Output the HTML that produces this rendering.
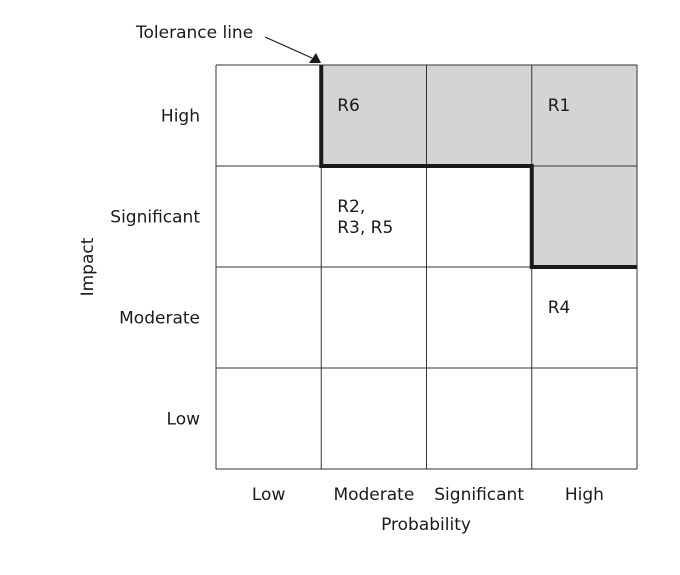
<!DOCTYPE html>
<html><head><meta charset="utf-8"><style>
html,body{margin:0;padding:0;background:#fff;}
svg text{font-family:"DejaVu Sans","Liberation Sans",sans-serif;font-size:17px;fill:#1a1a1a;}
</style></head><body>
<svg id="chart" width="680" height="570" viewBox="0 0 680 570" xmlns="http://www.w3.org/2000/svg"></svg>
<script>
const probCats = ["Low","Moderate","Significant","High"];
const impactCats = ["High","Significant","Moderate","Low"];
const shadedProb = ["Moderate","Significant","High","High"];
const shadedImpact = ["High","High","High","Significant"];
const riskLabels = [["R6"],["R1"],["R2,","R3, R5"],["R4"]];
const riskProb = ["Moderate","High","Moderate","High"];
const riskImpact = ["High","High","Significant","Moderate"];
const toleranceLevels = [0,1,1,2];

const svg = document.getElementById('chart');
const NS = 'http://www.w3.org/2000/svg';
const X0=216, X1=637, Y0=65, Y1=469;
const cw=(X1-X0)/probCats.length, ch=(Y1-Y0)/impactCats.length;
const xOf = c => X0 + probCats.indexOf(c)*cw;
const yOf = c => Y0 + impactCats.indexOf(c)*ch;
function mk(tag, attrs){const e=document.createElementNS(NS,tag);for(const k in attrs)e.setAttribute(k,attrs[k]);svg.appendChild(e);return e;}

shadedProb.forEach((p,i)=>{
  const r=mk('rect',{x:xOf(p),y:yOf(shadedImpact[i]),width:cw,height:ch,fill:'#d4d4d6'});
  
  
});
for(let i=0;i<=probCats.length;i++){
  const l=mk('line',{x1:X0+i*cw,x2:X0+i*cw,y1:Y0,y2:Y1,stroke:'#333','stroke-width':1});
  
  
}
for(let i=0;i<=impactCats.length;i++){
  const l=mk('line',{x1:X0,x2:X1,y1:Y0+i*ch,y2:Y0+i*ch,stroke:'#333','stroke-width':1});
  
  
}
// tolerance line: per column, number of rows above threshold
let d='';
toleranceLevels.forEach((lv,i)=>{
  const x=X0+i*cw, y=Y0+lv*ch;
  if(i===0) d+=`M${x},${y} `; else d+=`L${x},${y} `;
  d+=`L${x+cw},${y} `;
});
// build stepped path starting from top of first tolerance boundary
let pts=[];
toleranceLevels.forEach((lv,i)=>{
  if(lv===0) return;
  const x=X0+i*cw, y=Y0+lv*ch;
  if(pts.length===0) pts.push([x,Y0]);
  const prev=pts[pts.length-1];
  pts.push([x,y]); pts.push([x+cw,y]);
});
const tp=mk('path',{d:'M'+pts.map(p=>p.join(',')).join(' L'),fill:'none',stroke:'#1a1a1a','stroke-width':4});



riskLabels.forEach((lines,i)=>{
  const x=xOf(riskProb[i])+16, y=yOf(riskImpact[i])+46;
  lines.forEach((s,j)=>{
    const t=mk('text',{x:x,y:y+j*21});
    t.textContent=s;
    
    
  });
});
probCats.forEach((c,i)=>{
  const t=mk('text',{x:X0+i*cw+cw/2,y:500,'text-anchor':'middle'});
  t.textContent=c;
  
  
});
impactCats.forEach((c,i)=>{
  const t=mk('text',{x:200,y:Y0+i*ch+ch/2+6,'text-anchor':'end'});
  t.textContent=c;
  
  
});
const xt=mk('text',{x:426,y:530,'text-anchor':'middle'});xt.textContent='Probability';


const yt=mk('text',{x:0,y:0,'text-anchor':'middle',transform:'translate(93,267) rotate(-90)'});yt.textContent='Impact';


const tl=mk('text',{x:136,y:38});tl.textContent='Tolerance line';


const al=mk('line',{x1:265,y1:37,x2:312,y2:58,stroke:'#1a1a1a','stroke-width':1.2});


const ah=mk('polygon',{points:'309,63 321,63 316,53',fill:'#1a1a1a'});


</script>
</body></html>
